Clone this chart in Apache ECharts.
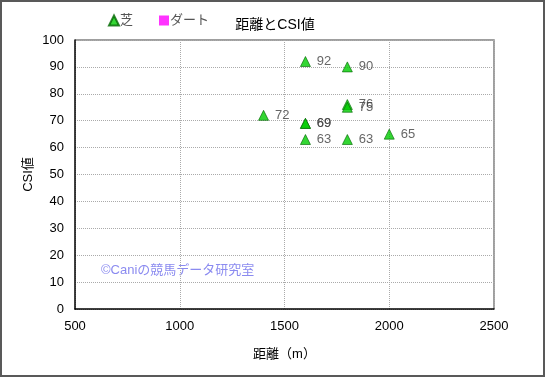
<!DOCTYPE html>
<html>
<head>
<meta charset="utf-8">
<script src="https://cdn.jsdelivr.net/npm/echarts@6/dist/echarts.min.js"></script>
<style>
  html, body { margin: 0; padding: 0; background: #fff; }
  /* 外枠 */
  #chart {
    width: 545px;
    height: 377px;
    box-sizing: border-box;
    border: 2px solid #595959;
  }
</style>
</head>
<body>
<div id="chart"></div>
<script>
// 芝のデータ [距離, CSI値]
const shibaDist = [1600, 1800, 1800, 1800, 1400, 1600, 1600, 1600, 1800, 2000]
const shibaCsi = [92, 90, 76, 75, 72, 69, 69, 63, 63, 65]
// ダートのデータ(なし)
const dirtDist = []
const dirtCsi = []

const font = '"Liberation Sans", "Noto Sans CJK JP", sans-serif'

const chart = echarts.init(document.getElementById('chart'))

const option = {
  animation: false,
  textStyle: { fontFamily: font },
  title: {
    text: '距離とCSI値',
    left: 268,
    top: 11,
    textAlign: 'center',
    textStyle: { fontSize: 14, fontWeight: 'normal', color: '#000', fontFamily: font }
  },
  legend: {
    left: 101,
    top: 7,
    itemGap: 26,
    itemWidth: 10,
    itemHeight: 10,
    textStyle: { fontSize: 13, color: '#555', padding: [0, 0, 0, -4] },
    data: [
      { name: '芝', icon: 'triangle' },
      { name: 'ダート', icon: 'rect' }
    ]
  },
  grid: { left: 73, right: 49, top: 38, bottom: 66 },
  graphic: [
    {
      type: 'text',
      left: 99,
      top: 262,
      style: {
        text: '©Caniの競馬データ研究室',
        fill: '#8b8bf0',
        font: '13px "Liberation Sans", "Noto Sans CJK JP", sans-serif'
      }
    }
  ],
  xAxis: {
    type: 'value',
    min: 500,
    max: 2500,
    interval: 500,
    name: '距離（m）',
    nameLocation: 'middle',
    nameGap: 39,
    nameMoveOverlap: false,
    nameTextStyle: { fontSize: 13, color: '#000' },
    axisLine: { show: true, lineStyle: { color: '#000', width: 1.5 } },
    axisTick: { show: false },
    axisLabel: { fontSize: 13, color: '#000', margin: 11, formatter: (v) => String(v) },
    splitLine: { show: true, lineStyle: { color: '#aaa', type: [1, 1] } }
  },
  yAxis: {
    type: 'value',
    min: 0,
    max: 100,
    interval: 10,
    name: 'CSI値',
    nameLocation: 'middle',
    nameGap: 40,
    nameMoveOverlap: false,
    nameTextStyle: { fontSize: 13, color: '#000' },
    axisLine: { show: true, lineStyle: { color: '#000', width: 1.5 } },
    axisTick: { show: false },
    axisLabel: { fontSize: 13, color: '#000', margin: 11 },
    splitLine: { show: true, lineStyle: { color: '#aaa', type: [1, 1] } }
  },
  series: [
    {
      name: '芝',
      type: 'scatter',
      symbol: 'triangle',
      symbolSize: 10,
      itemStyle: { color: '#00cc00', borderColor: '#006600', borderWidth: 0.8 },
      label: {
        show: true,
        position: 'right',
        distance: 6,
        fontSize: 13,
        color: '#404040',
        formatter: (p) => p.value[1]
      },
      data: shibaDist.map((d, i) => [d, shibaCsi[i]])
    },
    {
      name: 'ダート',
      type: 'scatter',
      symbol: 'rect',
      symbolSize: 9,
      itemStyle: { color: '#ff00ff' },
      data: dirtDist.map((d, i) => [d, dirtCsi[i]])
    }
  ]
}

chart.setOption(option)

// 右・上の枠線(グレー)
const rect = chart.getModel().getComponent('grid').coordinateSystem.getRect()
chart.setOption({
  graphic: [
    option.graphic[0],
    {
      type: 'polyline',
      silent: true,
      shape: {
        points: [
          [rect.x, rect.y],
          [rect.x + rect.width, rect.y],
          [rect.x + rect.width, rect.y + rect.height]
        ]
      },
      style: { stroke: '#808080', lineWidth: 1.5, fill: null }
    }
  ]
})
</script>
</body>
</html>
